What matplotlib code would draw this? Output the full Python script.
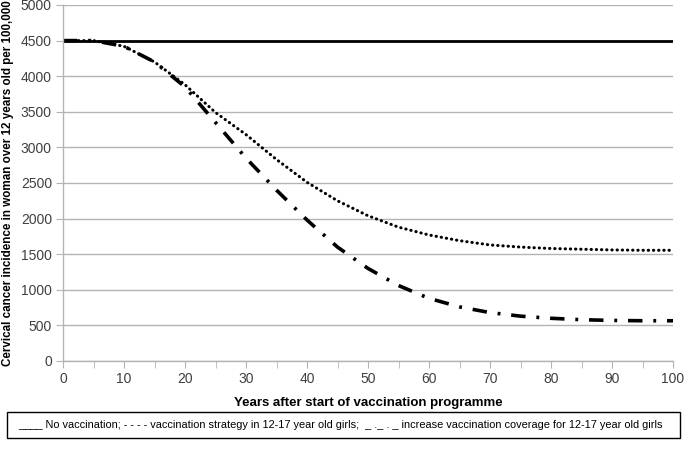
import matplotlib.pyplot as plt
import matplotlib.patches as mpatches
from matplotlib.ticker import MultipleLocator

# ── data ─────────────────────────────────────────────────────────────
years = [0, 5, 10, 15, 20, 25, 30, 35, 40, 45, 50,
         55, 60, 65, 70, 75, 80, 85, 90, 95, 100]
no_vacc = [4500] * len(years)
strategy = [4500, 4500, 4420, 4200, 3880, 3490, 3180, 2830, 2510, 2250, 2040,
            1880, 1770, 1690, 1630, 1600, 1580, 1570, 1560, 1555, 1555]
increased = [4500, 4500, 4420, 4200, 3850, 3350, 2850, 2400, 1980, 1600, 1300,
             1060, 880, 760, 680, 630, 600, 580, 570, 565, 565]

GRID = '#b4b4b4'
TICK_TXT = '#404040'

plt.rcParams['font.family'] = ['Liberation Sans', 'DejaVu Sans']

fig = plt.figure(figsize=(6.85, 4.49), dpi=100)
ax = fig.add_axes([63 / 685, 1 - 361 / 449, 610 / 685, 356 / 449])

ax.plot(years, no_vacc, color='black', lw=2.0, solid_capstyle='butt')
ax.plot(years, strategy, color='black', lw=2.2, linestyle=(0, (0.1, 1.6)),
        dash_capstyle='round')
ax.plot(years, increased, color='black', lw=2.6,
        linestyle=(0, (4, 3, 0.8, 3)))

ax.set_xlim(0, 100)
ax.set_ylim(0, 5000)
ax.xaxis.set_major_locator(MultipleLocator(10))
ax.xaxis.set_minor_locator(MultipleLocator(5))
ax.yaxis.set_major_locator(MultipleLocator(500))
ax.grid(axis='y', color=GRID, lw=1.0)
ax.set_axisbelow(True)

for s in ['top', 'right']:
    ax.spines[s].set_visible(False)
for s in ['left', 'bottom']:
    ax.spines[s].set_color(GRID)
    ax.spines[s].set_linewidth(1.0)

ax.tick_params(axis='x', which='both', direction='out', length=5,
               color=GRID, labelsize=10, labelcolor=TICK_TXT, pad=3)
ax.tick_params(axis='y', direction='out', length=5, color=GRID,
               labelsize=10, labelcolor=TICK_TXT, pad=3)

ax.set_xlabel('Years after start of vaccination programme', fontsize=9.5,
              fontweight='bold', labelpad=8)
ax.set_ylabel('Cervical cancer incidence in woman over 12 years old per 100,000',
              fontsize=8.4, fontweight='bold', labelpad=5)

# ── legend box at the bottom ─────────────────────────────────────────
fig.patches.append(mpatches.Rectangle(
    (7 / 685, 1 - 438 / 449), 673 / 685, 26 / 449,
    transform=fig.transFigure, facecolor='white', edgecolor='black', lw=1.0))
fig.text(18 / 685, 1 - 425 / 449,
         '____ No vaccination; - - - - vaccination strategy in 12-17 year old girls;  '
         '_ ._ . _ increase vaccination coverage for 12-17 year old girls',
         ha='left', va='center', fontsize=7.95)

fig.savefig('out.png', dpi=100, facecolor='white')
